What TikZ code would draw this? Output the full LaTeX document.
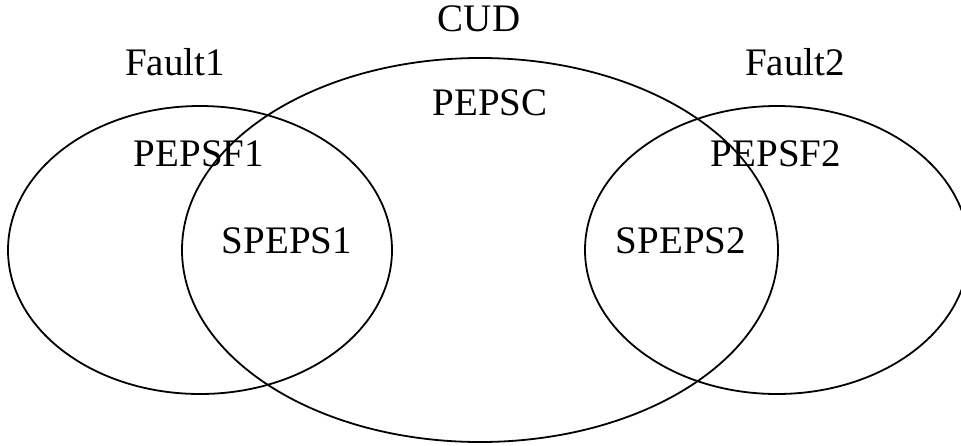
\documentclass[tikz,border=0pt]{standalone}
\usepackage{fontspec}
\setmainfont{Liberation Serif}
\begin{document}
\begin{tikzpicture}[x=1pt,y=-1pt,
  setline/.style={draw=black,line width=1.8pt},
  lbl/.style={inner sep=0pt,anchor=base,font=\fontsize{39}{47}\selectfont}]
\useasboundingbox (0,0) rectangle (961,445);
\draw[setline] (480,250) ellipse [x radius=298pt, y radius=192pt];
\draw[setline] (200,250) ellipse [x radius=192pt, y radius=144pt];
\draw[setline] (777,250) ellipse [x radius=192pt, y radius=144pt];
\node[lbl] (cud) at (479,31) {CUD};
\node[lbl] (f1) at (175,75) {Fault1};
\node[lbl] (f2) at (795,75) {Fault2};
\node[lbl] (pc) at (490,115) {PEPSC};
\node[lbl] (pf1) at (199,166) {PEPSF1};
\node[lbl] (pf2) at (776,166) {PEPSF2};
\node[lbl] (s1) at (287,253) {SPEPS1};
\node[lbl] (s2) at (681,253) {SPEPS2};
\end{tikzpicture}
\end{document}
